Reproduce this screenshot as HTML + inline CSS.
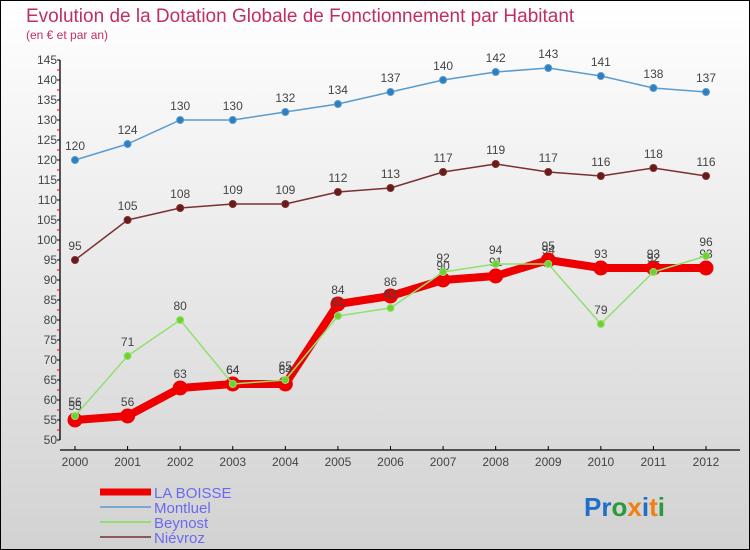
<!DOCTYPE html>
<html><head><meta charset="utf-8"><style>
body{margin:0}
svg{display:block;font-family:"Liberation Sans",sans-serif}
</style></head><body>
<svg id="c" width="750" height="550" xmlns="http://www.w3.org/2000/svg">
<defs><linearGradient id="bg" x1="0" y1="0" x2="0" y2="1"><stop offset="0" stop-color="#ffffff"/><stop offset="1" stop-color="#d2d2d2"/></linearGradient></defs>
<rect x="0.5" y="0.5" width="749" height="549" fill="url(#bg)" stroke="#000"/>
<text x="26" y="22" font-size="19" fill="#c0305a">Evolution de la Dotation Globale de Fonctionnement par Habitant</text>
<text x="26" y="39" font-size="12" fill="#c0305a">(en € et par an)</text>
<g id="axes"></g>
<g id="series"></g>
<g id="legend"></g>
<text x="584" y="516" font-size="26" font-weight="bold"><tspan fill="#1e6fc8">Pr</tspan><tspan fill="#2a9a3a">o</tspan><tspan fill="#f08010">x</tspan><tspan fill="#1e6fc8">i</tspan><tspan fill="#f08010">t</tspan><tspan fill="#2a9a3a">i</tspan></text>
</svg>
<script>
const years=[2000,2001,2002,2003,2004,2005,2006,2007,2008,2009,2010,2011,2012];
const laBoisse=[55,56,63,64,64,84,86,90,91,95,93,93,93];
const montluel=[120,124,130,130,132,134,137,140,142,143,141,138,137];
const beynost=[56,71,80,64,65,81,83,92,94,94,79,92,96];
const nievroz=[95,105,108,109,109,112,113,117,119,117,116,118,116];
const yTicks=[50,55,60,65,70,75,80,85,90,95,100,105,110,115,120,125,130,135,140,145];
const NS="http://www.w3.org/2000/svg";
const X=i=>75+i*(706-75)/(years.length-1);
const Y=v=>440-(v-50)*4;
function mk(tag,attrs,parent,text){const e=document.createElementNS(NS,tag);for(const k in attrs)e.setAttribute(k,attrs[k]);if(text!==undefined)e.textContent=text;parent.appendChild(e);return e;}
const ax=document.getElementById('axes');
let e=mk('line',{x1:60,y1:Y(145),x2:60,y2:Y(50),stroke:'#000','stroke-width':1.3},ax);


e=mk('line',{x1:60,y1:450,x2:740,y2:450,stroke:'#000','stroke-width':1.3},ax);


yTicks.forEach(v=>{
 mk('line',{x1:57,y1:Y(v),x2:60,y2:Y(v),stroke:'#000'},ax);
 if(v<145)mk('line',{x1:57,y1:Y(v+2.5),x2:60,y2:Y(v+2.5),stroke:'#e00'},ax);
 const t=mk('text',{x:57,y:Y(v)+4,'font-size':12,fill:'#444','text-anchor':'end'},ax,v);
 
 
});
years.forEach((y,i)=>{
 mk('line',{x1:X(i),y1:446,x2:X(i),y2:450,stroke:'#000'},ax);
 const t=mk('text',{x:X(i),y:466,'font-size':12,fill:'#444','text-anchor':'middle'},ax,y);
 
 
});
const sg=document.getElementById('series');
function series(vals,color,w,r,name,pt){
 const g=mk('g',{},sg);
 
 
 const p=mk('polyline',{points:vals.map((v,i)=>X(i)+','+Y(v)).join(' '),fill:'none',stroke:color,'stroke-width':w,'stroke-linejoin':'round'},g);
 
 
 vals.forEach((v,i)=>{
  const c=mk('circle',{cx:X(i),cy:Y(v),r:r,fill:pt,stroke:color,'stroke-width':1},g);
  
  
  const t=mk('text',{x:X(i),y:Y(v)-10,'font-size':12,fill:'#444','text-anchor':'middle'},g,v);
  
  
 });
}
series(montluel,'#5a9bd0',1.5,3.5,'montluel','#2f7fc0');
series(nievroz,'#7a3030',1.5,3.5,'nievroz','#6a1a1a');
series(laBoisse,'#ee0000',8,7,'la-boisse','#ee0000');
series(beynost,'#90e070',1.5,3.5,'beynost','#70d030');
const lg=document.getElementById('legend');
const items=[['LA BOISSE','#ee0000',7],['Montluel','#7aa8d0',2],['Beynost','#90e070',2],['Niévroz','#8a5a5a',2]];
items.forEach((it,i)=>{
 const y=492+i*15;
 const l=mk('line',{x1:100,y1:y,x2:151,y2:y,stroke:it[1],'stroke-width':it[2]},lg);
 
 
 const t=mk('text',{x:154,y:y+6,'font-size':15,fill:'#6a6af0'},lg,it[0]);
 
 
});
</script>
</body></html>
